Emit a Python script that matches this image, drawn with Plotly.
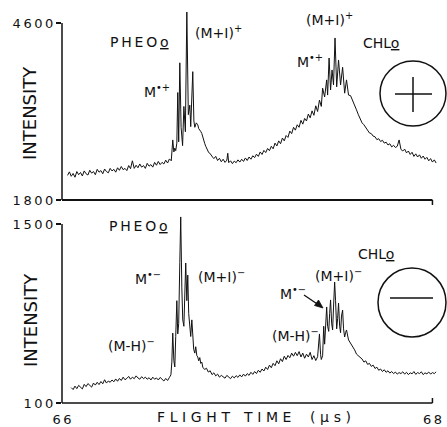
import plotly.graph_objects as go

# ---------------- data (flight time in microseconds, intensity) ----------------
top_x = [66.03, 66.04, 66.05, 66.06, 66.07, 66.08, 66.09, 66.10, 66.11, 66.12,
         66.13, 66.14, 66.15, 66.16, 66.17, 66.18, 66.19, 66.20, 66.21, 66.22,
         66.23, 66.24, 66.25, 66.26, 66.27, 66.28, 66.29, 66.30, 66.31, 66.32,
         66.33, 66.34, 66.35, 66.36, 66.37, 66.38, 66.39, 66.40, 66.41, 66.42,
         66.43, 66.44, 66.45, 66.46, 66.47, 66.48, 66.49, 66.50, 66.51, 66.52,
         66.53, 66.54, 66.55, 66.56, 66.57, 66.58, 66.59, 66.598, 66.604, 66.609,
         66.614, 66.620, 66.625, 66.630, 66.636, 66.643, 66.651, 66.658, 66.666, 66.674,
         66.682, 66.690, 66.695, 66.706, 66.712, 66.717, 66.725, 66.733, 66.738, 66.744,
         66.750, 66.755, 66.760, 66.766, 66.771, 66.776, 66.781, 66.787, 66.792, 66.798,
         66.806, 66.814, 66.82, 66.83, 66.84, 66.85, 66.86, 66.87, 66.88, 66.89,
         66.895, 66.90, 66.91, 66.92, 66.93, 66.94, 66.95, 66.96, 66.97, 66.98,
         66.99, 67.00, 67.01, 67.02, 67.03, 67.04, 67.05, 67.06, 67.07, 67.08,
         67.09, 67.10, 67.11, 67.12, 67.13, 67.14, 67.15, 67.16, 67.17, 67.18,
         67.19, 67.20, 67.21, 67.22, 67.23, 67.24, 67.25, 67.26, 67.27, 67.28,
         67.29, 67.30, 67.31, 67.32, 67.33, 67.34, 67.35, 67.36, 67.37, 67.38,
         67.39, 67.40, 67.407, 67.418, 67.429, 67.434, 67.442, 67.450, 67.458, 67.466,
         67.474, 67.483, 67.493, 67.504, 67.515, 67.526, 67.536, 67.547, 67.558, 67.569,
         67.58, 67.59, 67.60, 67.61, 67.62, 67.63, 67.64, 67.65, 67.66, 67.67,
         67.68, 67.69, 67.70, 67.71, 67.72, 67.73, 67.74, 67.75, 67.76, 67.77,
         67.78, 67.79, 67.80, 67.81, 67.82, 67.83, 67.84, 67.85, 67.86, 67.87,
         67.88, 67.89, 67.90, 67.91, 67.92, 67.93, 67.94, 67.95, 67.96, 67.97,
         67.98, 67.99, 68.00, 68.01, 68.02]
top_y = [2190, 2245, 2175, 2220, 2160, 2250, 2200, 2235, 2180, 2260,
         2215, 2195, 2270, 2225, 2250, 2200, 2285, 2240, 2265, 2215,
         2290, 2250, 2230, 2300, 2260, 2285, 2240, 2310, 2270, 2330,
         2280, 2300, 2265, 2345, 2295, 2420, 2300, 2350, 2310, 2370,
         2320, 2345, 2300, 2380, 2335, 2360, 2320, 2395, 2350, 2410,
         2360, 2395, 2370, 2430, 2385, 2450, 2420, 2750, 2560, 2620,
         2580, 2700, 3500, 2720, 3970, 2950, 2660, 3280, 2880, 4774,
         3150, 3300, 2960, 3830, 3050, 2950, 3020, 2990, 2930, 2910,
         2880, 2850, 2790, 2750, 2690, 2650, 2610, 2590, 2550, 2540,
         2500, 2475, 2455, 2490, 2425, 2460, 2405, 2445, 2395, 2430,
         2540, 2390, 2420, 2375, 2415, 2390, 2435, 2400, 2445, 2410,
         2465, 2425, 2480, 2445, 2500, 2470, 2525, 2490, 2560, 2520,
         2585, 2550, 2615, 2580, 2650, 2610, 2700, 2655, 2735, 2690,
         2780, 2735, 2820, 2790, 2890, 2850, 2950, 2905, 2990, 2950,
         3060, 3000, 3090, 3050, 3160, 3100, 3210, 3140, 3290, 3200,
         3380, 3280, 3570, 3430, 3700, 3460, 4046, 3540, 3857, 3620,
         4363, 3590, 4015, 3620, 3900, 3490, 3700, 3460, 3450, 3380,
         3300, 3225, 3150, 3085, 3020, 2990, 2940, 2905, 2860, 2850,
         2810, 2800, 2755, 2770, 2725, 2745, 2700, 2715, 2670, 2690,
         2640, 2665, 2630, 2650, 2750, 2600, 2575, 2605, 2545, 2575,
         2520, 2555, 2490, 2530, 2480, 2515, 2460, 2495, 2445, 2475,
         2420, 2455, 2400, 2435, 2385]

bot_x = [66.05, 66.06, 66.07, 66.08, 66.09, 66.10, 66.11, 66.12, 66.13, 66.14,
         66.15, 66.16, 66.17, 66.18, 66.19, 66.20, 66.21, 66.22, 66.23, 66.24,
         66.25, 66.26, 66.27, 66.28, 66.29, 66.30, 66.31, 66.32, 66.33, 66.34,
         66.35, 66.36, 66.37, 66.38, 66.39, 66.40, 66.41, 66.42, 66.43, 66.44,
         66.45, 66.46, 66.47, 66.48, 66.49, 66.50, 66.51, 66.52, 66.53, 66.54,
         66.55, 66.56, 66.57, 66.58, 66.588, 66.593, 66.598, 66.604, 66.609, 66.614,
         66.620, 66.625, 66.630, 66.636, 66.641, 66.647, 66.652, 66.658, 66.663, 66.668,
         66.674, 66.679, 66.684, 66.690, 66.695, 66.701, 66.706, 66.711, 66.717, 66.722,
         66.728, 66.733, 66.738, 66.744, 66.749, 66.755, 66.76, 66.77, 66.78, 66.79,
         66.80, 66.81, 66.82, 66.83, 66.84, 66.85, 66.86, 66.87, 66.88, 66.89,
         66.90, 66.91, 66.92, 66.93, 66.94, 66.95, 66.96, 66.97, 66.98, 66.99,
         67.00, 67.01, 67.02, 67.03, 67.04, 67.05, 67.06, 67.07, 67.08, 67.09,
         67.10, 67.11, 67.12, 67.13, 67.14, 67.15, 67.16, 67.17, 67.18, 67.19,
         67.20, 67.21, 67.22, 67.23, 67.24, 67.25, 67.26, 67.27, 67.28, 67.29,
         67.30, 67.31, 67.32, 67.33, 67.34, 67.35, 67.36, 67.37, 67.38, 67.39,
         67.396, 67.40, 67.407, 67.413, 67.418, 67.423, 67.429, 67.434, 67.440, 67.445,
         67.450, 67.456, 67.461, 67.466, 67.472, 67.477, 67.483, 67.488, 67.493, 67.499,
         67.504, 67.509, 67.515, 67.520, 67.526, 67.531, 67.536, 67.547, 67.558, 67.569,
         67.58, 67.59, 67.60, 67.61, 67.62, 67.63, 67.64, 67.65, 67.66, 67.67,
         67.68, 67.69, 67.70, 67.71, 67.72, 67.73, 67.74, 67.75, 67.76, 67.77,
         67.78, 67.79, 67.80, 67.81, 67.82, 67.83, 67.84, 67.85, 67.86, 67.87,
         67.88, 67.89, 67.90, 67.91, 67.92, 67.93, 67.94, 67.95, 67.96, 67.97,
         67.98, 67.99, 68.00, 68.01, 68.02]
bot_y = [220, 205, 232, 212, 238, 222, 210, 246, 228, 252,
         236, 224, 256, 240, 262, 244, 268, 250, 282, 256,
         272, 262, 280, 266, 288, 270, 292, 276, 302, 282,
         292, 308, 286, 302, 290, 312, 296, 286, 306, 290,
         302, 286, 298, 280, 302, 286, 296, 280, 300, 284,
         272, 292, 276, 300, 320, 420, 647, 430, 382, 620,
         900, 640, 720, 1200, 1555, 1000, 750, 700, 900, 1195,
         900, 1100, 800, 650, 620, 750, 616, 520, 490, 540,
         470, 460, 430, 455, 410, 420, 380, 362, 372, 342,
         352, 322, 336, 312, 326, 302, 316, 306, 294, 316,
         300, 290, 310, 296, 314, 300, 320, 304, 326, 310,
         330, 316, 340, 324, 346, 330, 356, 340, 366, 350,
         380, 362, 396, 376, 410, 392, 430, 406, 446, 424,
         466, 440, 472, 454, 490, 466, 496, 470, 502, 460,
         490, 450, 482, 460, 496, 440, 470, 432, 462, 640,
         480, 440, 470, 700, 560, 760, 851, 700, 660, 800,
         906, 720, 671, 850, 1046, 900, 680, 760, 882, 700,
         650, 780, 827, 680, 616, 650, 671, 593, 569, 538,
         515, 482, 470, 455, 444, 420, 430, 402, 410, 386,
         396, 370, 380, 356, 366, 346, 360, 340, 352, 334,
         346, 330, 342, 326, 338, 330, 344, 326, 340, 322,
         336, 328, 346, 324, 338, 330, 344, 322, 336, 328,
         342, 326, 338, 330, 344]

x_range = [66, 68.03]
top_range = [1800, 4853]
bot_range = [100, 1578]
top_ticks = [1800, 4600]
top_labels = ["1800", "4600"]
bot_ticks = [100, 1500]
bot_labels = ["100", "1500"]
x_ticks = [66, 68]
x_labels = ["66", "68"]

# ---------------- layout geometry ----------------
W, H = 447, 427
L, R, T, B = 62, 9, 7, 24
PW = W - L - R
PH = H - T - B
TOP_DOM = [(H - B - 200) / PH, 1.0]
BOT_DOM = [0.0, (H - B - 214) / PH]


def xp(px):
    return (px - L) / PW


def yp(py):
    return (H - B - py) / PH


def xv(v):
    return (v - x_range[0]) / (x_range[1] - x_range[0])


def ytop(v):
    return TOP_DOM[0] + (v - top_range[0]) / (top_range[1] - top_range[0]) * (TOP_DOM[1] - TOP_DOM[0])


def ybot(v):
    return BOT_DOM[0] + (v - bot_range[0]) / (bot_range[1] - bot_range[0]) * (BOT_DOM[1] - BOT_DOM[0])


FONT = "DejaVu Sans"
INK = "#111111"
TS = "\u2009"


def spaced(s):
    return TS.join(s)


fig = go.Figure()
fig.add_trace(go.Scatter(x=top_x, y=top_y, mode="lines",
                         line=dict(color=INK, width=1), xaxis="x", yaxis="y",
                         showlegend=False, hoverinfo="skip"))
fig.add_trace(go.Scatter(x=bot_x, y=bot_y, mode="lines",
                         line=dict(color=INK, width=1), xaxis="x2", yaxis="y2",
                         showlegend=False, hoverinfo="skip"))

tickfont = dict(family=FONT, size=13, color=INK)
common_y = dict(showgrid=False, zeroline=False, showline=False, ticks="outside",
                ticklen=5, tickwidth=1.5, tickcolor=INK, tickfont=tickfont,
                fixedrange=True, automargin=False)

fig.update_layout(
    width=W, height=H,
    margin=dict(l=L, r=R, t=T, b=B),
    paper_bgcolor="white", plot_bgcolor="white",
    hovermode=False,
    xaxis=dict(domain=[0, 1], anchor="y", range=x_range, showgrid=False, zeroline=False,
               showline=False, showticklabels=False, ticks="", automargin=False, fixedrange=True),
    yaxis=dict(domain=TOP_DOM, anchor="x", range=top_range, tickvals=top_ticks,
               ticktext=[spaced(t) for t in top_labels], **common_y),
    xaxis2=dict(domain=[0, 1], anchor="y2", range=x_range, showgrid=False, zeroline=False,
                showline=False, tickvals=x_ticks, ticktext=[spaced(t) for t in x_labels],
                ticks="outside", ticklen=4, tickcolor="rgba(0,0,0,0)", automargin=False,
                fixedrange=True, tickfont=dict(family=FONT, size=13, color=INK)),
    yaxis2=dict(domain=BOT_DOM, anchor="x2", range=bot_range, tickvals=bot_ticks,
                ticktext=[spaced(t) for t in bot_labels], **common_y),
)

line = dict(color=INK, width=1.5)
shapes = [
    # top panel axes
    dict(type="line", xref="paper", yref="paper", x0=0, x1=0, y0=ytop(1800), y1=ytop(4600), line=line),
    dict(type="line", xref="paper", yref="paper", x0=xv(66), x1=xv(68), y0=ytop(1800), y1=ytop(1800),
         line=dict(color=INK, width=2)),
    dict(type="line", xref="paper", yref="paper", x0=xv(68), x1=xv(68), y0=ytop(1800), y1=yp(205), line=line),
    # bottom panel axes
    dict(type="line", xref="paper", yref="paper", x0=0, x1=0, y0=ybot(100), y1=ybot(1500), line=line),
    dict(type="line", xref="paper", yref="paper", x0=xv(66), x1=xv(68), y0=ybot(100), y1=ybot(100), line=line),
    dict(type="line", xref="paper", yref="paper", x0=xv(68), x1=xv(68), y0=ybot(100), y1=yp(398), line=line),
    # polarity symbols
    dict(type="circle", xref="paper", yref="paper", x0=xp(380), x1=xp(446), y0=yp(126), y1=yp(61),
         line=dict(color=INK, width=1.5)),
    dict(type="line", xref="paper", yref="paper", x0=xp(395), x1=xp(432), y0=yp(94), y1=yp(94), line=line),
    dict(type="line", xref="paper", yref="paper", x0=xp(413), x1=xp(413), y0=yp(77), y1=yp(112), line=line),
    dict(type="circle", xref="paper", yref="paper", x0=xp(378), x1=xp(446), y0=yp(337), y1=yp(268),
         line=dict(color=INK, width=1.5)),
    dict(type="line", xref="paper", yref="paper", x0=xp(390), x1=xp(433), y0=yp(298), y1=yp(298), line=line),
    # arrow from the CHL M- label to its peak
    dict(type="line", xref="paper", yref="paper", x0=xp(304), x1=xp(318), y0=yp(295), y1=yp(304.5),
         line=dict(color=INK, width=1.3)),
    dict(type="path", xref="paper", yref="paper",
         path=f"M {xp(323)} {yp(308)} L {xp(314.5)} {yp(305.5)} L {xp(318.5)} {yp(300)} Z",
         fillcolor=INK, line=dict(color=INK, width=0.8)),
]
fig.update_layout(shapes=shapes)


def label(text, px, py, size=14, angle=0):
    fig.add_annotation(text=text, x=xp(px), y=yp(py), xref="paper", yref="paper",
                       showarrow=False, xanchor="center", yanchor="middle", textangle=angle,
                       font=dict(family=FONT, size=size, color=INK))


label("INTENSITY", 30, 113, size=18, angle=-90)
label("INTENSITY", 30, 320, size=18, angle=-90)
SP = "\u2004"
label(SP.join("FLIGHT") + "\u2003" + SP.join("TIME") + "\u2003\u2004" + SP.join("(μs)"), 254, 417, size=14)

# top panel labels
label(spaced("PHEO") + TS + "<u>o</u>", 139, 42)
label("(M+I)<sup>+</sup>", 218, 32)
label("M<sup>•+</sup>", 157, 91)
label("(M+I)<sup>+</sup>", 329, 19)
label("M<sup>•+</sup>", 310, 61)
label("CHL<u>o</u>", 381, 43)

# bottom panel labels
label(spaced("PHEO") + TS + "<u>o</u>", 138, 226)
label("M<sup>•−</sup>", 148, 278)
label("(M+I)<sup>−</sup>", 221, 276)
label("(M-H)<sup>−</sup>", 131, 345)
label("CHL<u>o</u>", 376, 254)
label("(M+I)<sup>−</sup>", 338, 275)
label("M<sup>•−</sup>", 293, 293)
label("(M-H)<sup>−</sup>", 295, 335)

fig.write_html("out.html", config={"displayModeBar": False, "staticPlot": True},
               post_script="document.body.style.margin='0';")
